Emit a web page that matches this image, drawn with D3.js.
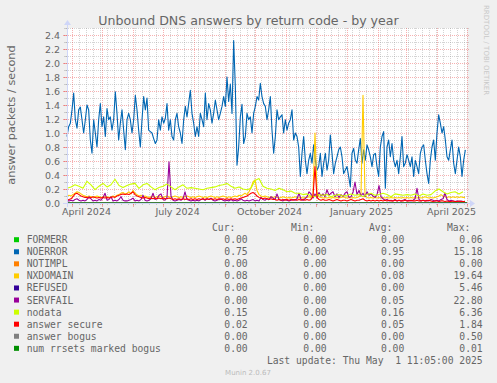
<!DOCTYPE html>
<html>
<head>
<meta charset="utf-8">
<script src="https://cdn.jsdelivr.net/npm/d3@7"></script>
<style>
body { margin: 0; background: #f0f0f0; }
svg { display: block; }
</style>
</head>
<body>
<script>
var width = 497;
var height = 383;

// munin "by year": 400 days ending at the last update
var endTime = Date.UTC(2025, 4, 1, 11, 5);
var dayMs = 864e5;
var startTime = endTime - 400 * dayMs;

var names = ["FORMERR", "NOERROR", "NOTIMPL", "NXDOMAIN", "REFUSED", "SERVFAIL",
  "nodata", "answer secure", "answer bogus", "num rrsets marked bogus"];
var colors = ["#00CC00", "#0066B3", "#FF8000", "#FFCC00", "#330099", "#990099",
  "#CCFF00", "#FF0000", "#808080", "#008F00"];
var curVals = ["0.00", "0.75", "0.00", "0.08", "0.00", "0.00", "0.15", "0.02", "0.00", "0.00"];
var minVals = ["0.00", "0.00", "0.00", "0.00", "0.00", "0.00", "0.00", "0.00", "0.00", "0.00"];
var avgVals = ["0.00", "0.95", "0.00", "0.08", "0.00", "0.05", "0.16", "0.05", "0.00", "0.00"];
var maxVals = ["0.06", "15.18", "0.00", "19.64", "5.46", "22.80", "6.36", "1.84", "0.50", "0.01"];

// NOERROR, one sample every 5/3 day
var noerror = [
  0.95,1.09,1.14,1.33,1.57,1.19,1.07,1.33,1.37,1.19,
  1.00,1.19,1.40,1.33,0.90,0.71,1.19,1.00,0.80,1.19,
  1.42,1.09,1.23,0.95,1.35,1.19,1.23,1.04,1.19,1.59,
  1.28,0.90,1.14,1.33,1.04,0.76,1.19,1.28,1.19,1.00,
  1.19,1.54,1.33,1.04,0.80,1.19,1.52,1.33,1.50,1.04,
  1.02,1.00,0.92,0.85,0.90,1.19,1.04,1.23,1.14,1.21,
  1.42,1.04,1.19,0.95,0.90,1.19,1.28,1.09,1.00,0.85,
  1.19,1.38,1.23,1.42,1.61,1.28,1.14,0.95,1.09,0.95,
  1.28,1.19,1.09,1.57,1.19,1.42,1.33,1.14,1.28,1.47,
  1.33,1.19,1.28,1.38,1.52,1.38,1.80,1.45,1.70,1.28,
  2.32,1.66,0.54,0.80,1.23,1.41,0.85,0.95,1.28,1.19,
  1.23,1.00,1.28,1.38,1.52,1.47,1.71,1.52,1.42,1.38,
  1.19,1.33,1.52,1.04,0.71,0.95,
  1.33,1.19,1.23,1.26,1.00,1.19,1.04,1.14,1.19,1.33,
  0.90,1.00,0.95,0.80,0.38,0.71,0.95,0.61,0.42,0.61,
  0.71,0.57,0.83,0.61,0.47,0.52,0.71,0.38,0.57,0.71,
  0.47,0.61,0.97,0.71,0.42,0.57,0.66,0.76,0.80,0.66,
  0.42,0.47,0.52,0.38,0.23,0.71,0.78,0.61,0.57,0.76,
  0.92,0.57,0.76,0.61,0.83,0.76,0.66,0.52,0.69,0.71,
  0.52,0.38,0.80,0.95,1.02,0.21,0.80,0.90,0.66,0.85,
  0.61,0.52,0.61,0.42,0.66,0.95,0.52,0.57,0.69,0.61,
  0.52,0.66,0.38,0.61,0.52,0.42,0.71,0.80,0.83,0.61,
  0.42,0.28,0.61,0.80,0.90,0.61,1.00,1.26,1.14,1.00,
  1.09,0.90,0.66,0.61,0.76,0.90,0.57,0.42,0.61,0.80,
  0.66,0.38,0.61,0.76
];

// NXDOMAIN, every 2 days
var nxdomain = [
  0.10,0.11,0.10,0.12,0.14, 0.16,0.15,0.13,0.11,0.10,
  0.09,0.10,0.09,0.08,0.09, 0.10,0.09,0.08,0.09,0.10,
  0.09,0.08,0.09,0.10,0.09, 0.11,0.12,0.14,0.15,0.13,
  0.14,0.16,0.13,0.18,0.14, 0.12,0.10,0.11,0.09,0.10,
  0.09,0.08,0.09,0.10,0.08, 0.09,0.10,0.09,0.08,0.09,
  0.10,0.09,0.08,0.09,0.10, 0.09,0.08,0.09,0.08,0.09,
  0.10,0.09,0.08,0.09,0.08, 0.09,0.10,0.09,0.08,0.09,
  0.08,0.09,0.10,0.09,0.08, 0.09,0.08,0.09,0.10,0.09,
  0.08,0.09,0.08,0.09,0.10, 0.09,0.11,0.10,0.12,0.14,
  0.12,0.16,0.22,0.30,0.33, 0.18,0.12,0.10,0.09,0.10,
  0.09,0.08,0.09,0.08,0.09, 0.08,0.07,0.08,0.09,0.08,
  0.07,0.08,0.07,0.08,0.09, 0.08,0.07,0.08,0.07,0.08,
  0.08,0.09,0.08,0.12,1.00, 0.15,0.09,0.08,0.07,0.08,
  0.07,0.08,0.07,0.08,0.07, 0.08,0.07,0.08,0.09,0.08,
  0.07,0.08,0.07,0.08,0.07, 0.08,0.09,0.12,1.54,0.10,
  0.08,0.07,0.08,0.07,0.08, 0.07,0.08,0.07,0.08,0.07,
  0.08,0.07,0.08,0.07,0.08, 0.07,0.08,0.07,0.08,0.07,
  0.08,0.07,0.08,0.07,0.08, 0.07,0.08,0.07,0.08,0.09,
  0.08,0.07,0.08,0.07,0.08, 0.09,0.10,0.12,0.10,0.09,
  0.08,0.09,0.08,0.09,0.08, 0.09,0.08,0.09,0.08,0.08
];

// SERVFAIL, every 2 days
var servfail = [
  0.03,0.03,0.04,0.03,0.05, 0.06,0.04,0.03,0.04,0.03,
  0.05,0.09,0.06,0.03,0.04, 0.03,0.05,0.04,0.08,0.14,
  0.04,0.05,0.09,0.03,0.04, 0.03,0.05,0.09,0.04,0.03,
  0.03,0.04,0.05,0.07,0.03, 0.04,0.03,0.05,0.11,0.04,
  0.03,0.04,0.06,0.14,0.05, 0.06,0.11,0.13,0.05,0.04,
  0.08,0.59,0.10,0.04,0.03, 0.04,0.05,0.04,0.06,0.16,
  0.05,0.04,0.03,0.04,0.03, 0.04,0.03,0.05,0.06,0.04,
  0.06,0.05,0.07,0.04,0.03, 0.04,0.05,0.06,0.04,0.03,
  0.04,0.03,0.05,0.03,0.04, 0.03,0.04,0.06,0.04,0.03,
  0.04,0.03,0.04,0.05,0.03, 0.04,0.03,0.08,0.05,0.04,
  0.06,0.05,0.09,0.07,0.05, 0.13,0.05,0.04,0.03,0.05,
  0.04,0.03,0.04,0.05,0.04, 0.06,0.14,0.05,0.04,0.06,
  0.09,0.16,0.13,0.07,0.13, 0.08,0.15,0.10,0.13,0.09,
  0.19,0.11,0.14,0.16,0.09, 0.13,0.08,0.12,0.09,0.14,
  0.16,0.08,0.09,0.15,0.30, 0.12,0.18,0.10,0.14,0.09,
  0.16,0.11,0.13,0.10,0.08, 0.12,0.25,0.09,0.06,0.04,
  0.05,0.03,0.04,0.03,0.05, 0.03,0.04,0.03,0.04,0.05,
  0.03,0.04,0.03,0.04,0.06, 0.21,0.05,0.03,0.04,0.03,
  0.04,0.03,0.05,0.04,0.03, 0.04,0.03,0.05,0.06,0.14,
  0.05,0.03,0.04,0.03,0.02, 0.03,0.02,0.03,0.02,0.01
];

// answer secure, every 2 days
var secure = [
  0.04,0.05,0.06,0.09,0.13, 0.14,0.12,0.10,0.09,0.08,
  0.08,0.07,0.08,0.09,0.08, 0.07,0.08,0.07,0.08,0.07,
  0.08,0.07,0.08,0.09,0.08, 0.10,0.11,0.12,0.13,0.12,
  0.13,0.12,0.14,0.16,0.12, 0.10,0.09,0.08,0.07,0.08,
  0.07,0.06,0.07,0.06,0.07, 0.06,0.07,0.06,0.07,0.06,
  0.06,0.07,0.06,0.05,0.06, 0.05,0.06,0.05,0.06,0.05,
  0.06,0.05,0.06,0.05,0.06, 0.05,0.06,0.05,0.06,0.05,
  0.06,0.05,0.06,0.05,0.06, 0.05,0.06,0.05,0.06,0.05,
  0.06,0.05,0.06,0.05,0.06, 0.05,0.06,0.07,0.08,0.09,
  0.10,0.12,0.14,0.15,0.13, 0.10,0.08,0.07,0.06,0.07,
  0.06,0.05,0.06,0.05,0.05, 0.04,0.05,0.04,0.05,0.04,
  0.05,0.04,0.05,0.04,0.05, 0.04,0.05,0.04,0.05,0.04,
  0.05,0.04,0.05,0.10,0.52, 0.08,0.05,0.04,0.05,0.04,
  0.04,0.05,0.04,0.03,0.04, 0.05,0.04,0.03,0.04,0.04,
  0.03,0.04,0.05,0.04,0.03, 0.04,0.04,0.05,0.06,0.04,
  0.03,0.04,0.03,0.04,0.03, 0.04,0.03,0.04,0.03,0.04,
  0.03,0.04,0.03,0.03,0.04, 0.03,0.04,0.03,0.03,0.04,
  0.03,0.03,0.04,0.03,0.03, 0.04,0.03,0.03,0.04,0.03,
  0.03,0.04,0.03,0.02,0.03, 0.03,0.02,0.03,0.03,0.02,
  0.03,0.02,0.02,0.03,0.02, 0.02,0.03,0.02,0.02,0.02
];

// nodata, every 4 days
var nodata = [
  0.21,0.23,0.26,0.24,0.21, 0.31,0.26,0.19,0.24,0.28,
  0.23,0.26,0.34,0.25,0.22, 0.25,0.27,0.28,0.21,0.26,
  0.28,0.23,0.19,0.22,0.24, 0.27,0.23,0.19,0.23,0.26,
  0.21,0.22,0.21,0.20,0.19, 0.21,0.22,0.23,0.25,0.26,
  0.28,0.24,0.21,0.23,0.20, 0.19,0.21,0.32,0.35,0.24,
  0.21,0.20,0.18,0.21,0.19, 0.16,0.17,0.14,0.14,0.12,
  0.13,0.10,0.09,0.12,0.11, 0.12,0.09,0.11,0.12,0.10,
  0.11,0.13,0.11,0.12,0.09, 0.12,0.14,0.11,0.12,0.14,
  0.12,0.09,0.13,0.12,0.11, 0.12,0.11,0.13,0.10,0.13,
  0.11,0.12,0.17,0.20,0.16, 0.13,0.15,0.16,0.13,0.16
];

// series that stay at zero over the whole year
var zeroLine = [0, 0];

var series = [
  { name: "FORMERR", values: zeroLine, step: 400 },
  { name: "NOERROR", values: noerror, step: 5 / 3 },
  { name: "NOTIMPL", values: zeroLine, step: 400 },
  { name: "NXDOMAIN", values: nxdomain, step: 2 },
  { name: "REFUSED", values: zeroLine, step: 400 },
  { name: "SERVFAIL", values: servfail, step: 2 },
  { name: "nodata", values: nodata, step: 4 },
  { name: "answer secure", values: secure, step: 2 },
  { name: "answer bogus", values: zeroLine, step: 400 },
  { name: "num rrsets marked bogus", values: zeroLine, step: 400 }
];

var fontColor = "#666666";
var axisColor = "#CFD6F8";
var gridColor = "rgba(143,143,143,0.38)";
var mgridColor = "rgba(233,60,60,0.4)";

var svg = d3.select("body").append("svg")
  .attr("width", width).attr("height", height)
  .style("background-color", "#f0f0f0");

var x = d3.scaleUtc().domain([startTime, endTime]).range([67, 467]);
var y = d3.scaleLinear().domain([0, 2.5]).range([203, 28]);

// plot canvas
svg.append("rect").attr("x", 67).attr("y", 28).attr("width", 400).attr("height", 175)
  .attr("fill", "#ffffff");

var grid = svg.append("g").attr("shape-rendering", "crispEdges");

// horizontal grid: minor every 0.1, major every 0.2
var hTicks = d3.range(1, 26).map(function (i) { return i / 10; });
hTicks.forEach(function (v, i) {
  var major = (i + 1) % 2 === 0;
  var yy = Math.round(y(v)) + 0.5;
  grid.append("line").attr("x1", 64).attr("x2", 469).attr("y1", yy).attr("y2", yy)
    .attr("stroke", major ? mgridColor : gridColor)
    .attr("stroke-dasharray", "1,1");
  grid.append("line").attr("x1", major ? 63 : 65).attr("x2", 67).attr("y1", yy).attr("y2", yy)
    .attr("stroke", major ? mgridColor : gridColor);
});

// vertical grid: weeks minor, months major
var months = d3.utcMonth.range(new Date(startTime), new Date(endTime));
var weeks = d3.utcMonday.range(new Date(startTime), new Date(endTime))
  .filter(function (d) { return d.getUTCDate() !== 1; });
weeks.forEach(function (d) {
  var xx = Math.round(x(d)) + 0.5;
  grid.append("line").attr("x1", xx).attr("x2", xx).attr("y1", 28).attr("y2", 205)
    .attr("stroke", gridColor).attr("stroke-dasharray", "1,1");
});
months.forEach(function (d) {
  var xx = Math.round(x(d)) + 0.5;
  grid.append("line").attr("x1", xx).attr("x2", xx).attr("y1", 28).attr("y2", 206)
    .attr("stroke", mgridColor).attr("stroke-dasharray", "1,1");
  grid.append("line").attr("x1", xx).attr("x2", xx).attr("y1", 203).attr("y2", 207)
    .attr("stroke", mgridColor);
});

// y labels
var yLabels = d3.range(0, 13).map(function (i) { return i / 5; });
svg.append("g").selectAll("text").data(yLabels).enter().append("text")
  .attr("x", 60).attr("y", function (d) { return y(d) + 3.5; })
  .attr("text-anchor", "end")
  .attr("font-family", "DejaVu Sans").attr("font-size", "9.5px").attr("fill", fontColor)
  .text(function (d) { return d.toFixed(1); });

// x labels: quarter months, centred in the middle of the month
var labelMonths = d3.utcMonth.every(3).range(new Date(startTime), new Date(endTime));
var fmt = d3.utcFormat("%B %Y");
svg.append("g").selectAll("text").data(labelMonths).enter().append("text")
  .attr("x", function (d) { return x(d.getTime() + 15 * dayMs); })
  .attr("y", 215)
  .attr("text-anchor", "middle")
  .attr("font-family", "DejaVu Sans").attr("font-size", "9.5px").attr("fill", fontColor)
  .text(function (d) { return fmt(d); });

// series lines
var plot = svg.append("g");
series.forEach(function (s, k) {
  var line = d3.line()
    .x(function (v, i) { return x(startTime + i * s.step * dayMs); })
    .y(function (v) { return y(v); });
  plot.append("path").datum(s.values)
    .attr("d", line)
    .attr("fill", "none")
    .attr("stroke", colors[k])
    .attr("stroke-width", 1.1)
    .attr("stroke-linejoin", "round");
});

// axes with arrows
var axes = svg.append("g");
axes.append("line").attr("x1", 63).attr("x2", 471).attr("y1", 203.5).attr("y2", 203.5)
  .attr("stroke", axisColor);
axes.append("line").attr("x1", 67.5).attr("x2", 67.5).attr("y1", 207).attr("y2", 24)
  .attr("stroke", axisColor);
axes.append("path").attr("d", "M470,200 L470,207 L475,203.5 Z").attr("fill", axisColor);
axes.append("path").attr("d", "M64,25 L71,25 L67.5,20 Z").attr("fill", axisColor);

// title and axis label
svg.append("text").attr("x", 248.5).attr("y", 24.5).attr("text-anchor", "middle")
  .attr("font-family", "DejaVu Sans").attr("font-size", "12.6px").attr("fill", fontColor)
  .text("Unbound DNS answers by return code - by year");
svg.append("text").attr("transform", "translate(15,115) rotate(-90)")
  .attr("text-anchor", "middle")
  .attr("font-family", "DejaVu Sans").attr("font-size", "11.3px").attr("fill", fontColor)
  .text("answer packets / second");
svg.append("text").attr("transform", "translate(484,5) rotate(90)")
  .attr("font-family", "DejaVu Sans").attr("font-size", "7px").attr("fill", "#c8c8c8")
  .text("RRDTOOL / TOBI OETIKER");

// legend
var legend = svg.append("g").attr("font-family", "DejaVu Sans Mono")
  .attr("font-size", "9.7px").attr("fill", fontColor);
var heads = ["Cur:", "Min:", "Avg:", "Max:"];
var headX = [212, 291, 369, 447];
heads.forEach(function (h, i) {
  legend.append("text").attr("x", headX[i]).attr("y", 230.8).text(h);
});
var colX = [247.7, 326.7, 404.3, 482.7];
var rowY = function (i) { return 239.7 + i * 12.07; };
names.forEach(function (n, i) {
  var cy = rowY(i);
  legend.append("rect").attr("x", 14).attr("y", cy - 2.5).attr("width", 5).attr("height", 5)
    .attr("fill", colors[i]);
  legend.append("text").attr("x", 26.7).attr("y", cy + 3.5).text(n);
  [curVals, minVals, avgVals, maxVals].forEach(function (col, j) {
    legend.append("text").attr("x", colX[j]).attr("y", cy + 3.5)
      .attr("text-anchor", "end").text(col[i]);
  });
});
legend.append("text").attr("x", 482.7).attr("y", rowY(10) + 3.5).attr("text-anchor", "end")
  .attr("xml:space", "preserve").style("white-space", "pre")
  .text("Last update: Thu May  1 11:05:00 2025");

svg.append("text").attr("x", 248).attr("y", 375).attr("text-anchor", "middle")
  .attr("font-family", "DejaVu Sans").attr("font-size", "7px").attr("fill", "#bbbbbb")
  .text("Munin 2.0.67");
</script>
</body>
</html>
